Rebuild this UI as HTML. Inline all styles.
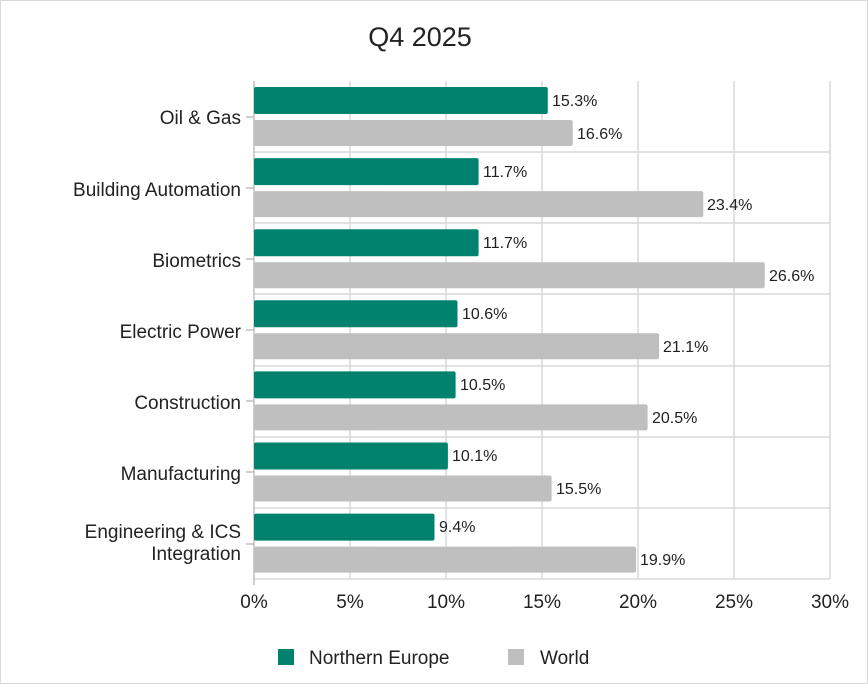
<!DOCTYPE html><html><head><style>body{margin:0;background:#fff}svg{display:block}text{font-family:"Liberation Sans",sans-serif;fill:#222}</style></head><body>
<svg width="868" height="684" xmlns="http://www.w3.org/2000/svg">
<rect x="0.5" y="0.5" width="867" height="683" fill="#fff" stroke="#d9d9d9"/>
<text x="420" y="46" font-size="27" text-anchor="middle">Q4 2025</text>
<g stroke="#d9d9d9" stroke-width="1.5">
<line x1="350" y1="81" x2="350" y2="579"/><line x1="446" y1="81" x2="446" y2="579"/><line x1="542" y1="81" x2="542" y2="579"/><line x1="638" y1="81" x2="638" y2="579"/><line x1="734" y1="81" x2="734" y2="579"/><line x1="830" y1="81" x2="830" y2="579"/>
<line x1="254" y1="152" x2="830" y2="152"/><line x1="254" y1="223" x2="830" y2="223"/><line x1="254" y1="294" x2="830" y2="294"/><line x1="254" y1="366" x2="830" y2="366"/><line x1="254" y1="437" x2="830" y2="437"/><line x1="254" y1="508" x2="830" y2="508"/>
<line x1="254" y1="579" x2="830" y2="579"/>
</g>
<g stroke="#bfbfbf" stroke-width="1.5"><line x1="254" y1="81" x2="254" y2="585"/>
<line x1="246" y1="117" x2="254" y2="117"/><line x1="246" y1="188" x2="254" y2="188"/><line x1="246" y1="259" x2="254" y2="259"/><line x1="246" y1="330" x2="254" y2="330"/><line x1="246" y1="401" x2="254" y2="401"/><line x1="246" y1="472" x2="254" y2="472"/><line x1="246" y1="544" x2="254" y2="544"/></g>
<g>
<rect x="254" y="87" width="293.8" height="27" rx="2" fill="#00826e"/>
<rect x="254" y="120" width="318.7" height="26" rx="2" fill="#bfbfbf"/>
<rect x="254" y="158.1" width="224.6" height="27" rx="2" fill="#00826e"/>
<rect x="254" y="191.1" width="449.3" height="26" rx="2" fill="#bfbfbf"/>
<rect x="254" y="229.2" width="224.6" height="27" rx="2" fill="#00826e"/>
<rect x="254" y="262.2" width="510.7" height="26" rx="2" fill="#bfbfbf"/>
<rect x="254" y="300.3" width="203.5" height="27" rx="2" fill="#00826e"/>
<rect x="254" y="333.3" width="405.1" height="26" rx="2" fill="#bfbfbf"/>
<rect x="254" y="371.4" width="201.6" height="27" rx="2" fill="#00826e"/>
<rect x="254" y="404.4" width="393.6" height="26" rx="2" fill="#bfbfbf"/>
<rect x="254" y="442.5" width="193.9" height="27" rx="2" fill="#00826e"/>
<rect x="254" y="475.5" width="297.6" height="26" rx="2" fill="#bfbfbf"/>
<rect x="254" y="513.6" width="180.5" height="27" rx="2" fill="#00826e"/>
<rect x="254" y="546.6" width="382.1" height="26" rx="2" fill="#bfbfbf"/>
</g>
<g font-size="16">
<text x="552" y="106">15.3%</text><text x="577" y="139">16.6%</text>
<text x="483" y="177">11.7%</text><text x="707" y="210">23.4%</text>
<text x="483" y="248">11.7%</text><text x="769" y="281">26.6%</text>
<text x="462" y="319">10.6%</text><text x="663" y="352">21.1%</text>
<text x="460" y="390">10.5%</text><text x="652" y="423">20.5%</text>
<text x="452" y="461">10.1%</text><text x="556" y="494">15.5%</text>
<text x="439" y="532">9.4%</text><text x="640" y="565">19.9%</text>
</g>
<g font-size="19" text-anchor="end">
<text x="241" y="124">Oil &amp; Gas</text>
<text x="241" y="196">Building Automation</text>
<text x="241" y="267">Biometrics</text>
<text x="241" y="338">Electric Power</text>
<text x="241" y="409">Construction</text>
<text x="241" y="480">Manufacturing</text>
<text x="241" y="538">Engineering &amp; ICS</text>
<text x="241" y="560">Integration</text>
</g>
<g font-size="19" text-anchor="middle">
<text x="254" y="608">0%</text><text x="350" y="608">5%</text><text x="446" y="608">10%</text><text x="542" y="608">15%</text><text x="638" y="608">20%</text><text x="734" y="608">25%</text><text x="830" y="608">30%</text>
</g>
<rect x="278" y="649" width="16" height="16" fill="#00826e"/><text x="309" y="664" font-size="19">Northern Europe</text>
<rect x="508" y="649" width="16" height="16" fill="#bfbfbf"/><text x="540" y="664" font-size="19">World</text>
</svg></body></html>
